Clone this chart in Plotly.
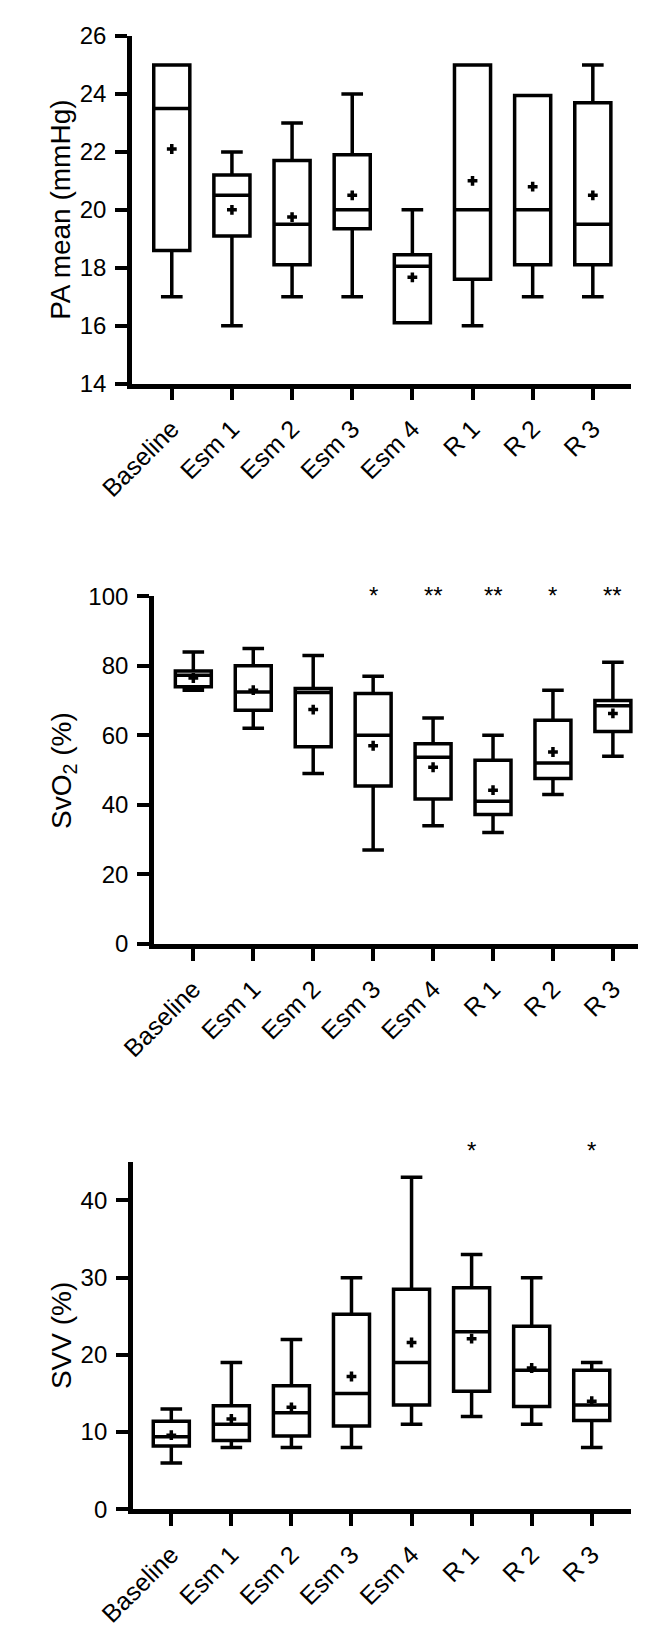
import plotly.graph_objects as go

categories = ["Baseline", "Esm 1", "Esm 2", "Esm 3", "Esm 4", "R 1", "R 2", "R 3"]

# Panel 1: PA mean (mmHg)
pa_lower = [17, 16, 17, 17, 16.1, 16, 17, 17]
pa_q1 = [18.6, 19.1, 18.1, 19.35, 16.1, 17.6, 18.1, 18.1]
pa_median = [23.5, 20.5, 19.5, 20.0, 18.05, 20.0, 20.0, 19.5]
pa_q3 = [25, 21.2, 21.7, 21.9, 18.45, 25, 23.95, 23.7]
pa_upper = [25, 22, 23, 24, 20, 25, 23.95, 25]
pa_mean = [22.1, 20.0, 19.75, 20.5, 17.67, 21.0, 20.8, 20.5]

# Panel 2: SvO2 (%)
svo2_lower = [73, 62, 49, 27, 34, 32, 43, 54]
svo2_q1 = [74, 67.2, 56.7, 45.4, 41.7, 37.2, 47.6, 61.1]
svo2_median = [77.3, 72.5, 72.3, 60, 53.7, 41, 52, 68.5]
svo2_q3 = [78.5, 80, 73.5, 72, 57.6, 52.8, 64.3, 70]
svo2_upper = [84, 85, 83, 77, 65, 60, 73, 81]
svo2_mean = [76.5, 73, 67.4, 57, 50.8, 44.2, 55.2, 66.3]
svo2_stars = ["", "", "", "*", "**", "**", "*", "**"]

# Panel 3: SVV (%)
svv_lower = [6, 8, 8, 8, 11, 12, 11, 8]
svv_q1 = [8.2, 8.9, 9.5, 10.8, 13.5, 15.3, 13.3, 11.5]
svv_median = [9.4, 11, 12.5, 15, 19, 23, 18, 13.5]
svv_q3 = [11.4, 13.4, 16, 25.25, 28.5, 28.7, 23.7, 18]
svv_upper = [13, 19, 22, 30, 43, 33, 30, 19]
svv_mean = [9.6, 11.7, 13.2, 17.2, 21.6, 22.1, 18.3, 14.0]
svv_stars = ["", "", "", "", "", "*", "", "*"]

W, H = 646, 1630
FONT = "Arial, Liberation Sans, sans-serif"
LW_BOX = 3.5
LW_AXIS = 4.5

fig = go.Figure()

panels = [
    dict(lower=pa_lower, q1=pa_q1, med=pa_median, q3=pa_q3, upper=pa_upper, mean=pa_mean,
         xa="x", ya="y"),
    dict(lower=svo2_lower, q1=svo2_q1, med=svo2_median, q3=svo2_q3, upper=svo2_upper, mean=svo2_mean,
         xa="x2", ya="y2"),
    dict(lower=svv_lower, q1=svv_q1, med=svv_median, q3=svv_q3, upper=svv_upper, mean=svv_mean,
         xa="x3", ya="y3"),
]

for p in panels:
    fig.add_trace(go.Box(
        x=categories, q1=p["q1"], median=p["med"], q3=p["q3"],
        lowerfence=p["lower"], upperfence=p["upper"],
        boxpoints=False, boxmean=False,
        line=dict(color="black", width=LW_BOX), fillcolor="white",
        width=0.6, whiskerwidth=0.6,
        xaxis=p["xa"], yaxis=p["ya"], showlegend=False, hoverinfo="skip",
    ))
    fig.add_trace(go.Scatter(
        x=categories, y=p["mean"], mode="markers",
        marker=dict(symbol="cross-thin", size=7, color="black",
                    line=dict(width=3.5, color="black")),
        xaxis=p["xa"], yaxis=p["ya"], showlegend=False, hoverinfo="skip",
    ))

def px_x(a, b):
    return [a / W, b / W]

def px_y(top, bottom):
    return [1 - bottom / H, 1 - top / H]

common_x = dict(type="category", showline=True, linewidth=LW_AXIS, linecolor="black",
                ticks="outside", ticklen=12, tickwidth=4, tickcolor="black",
                tickangle=-45, tickfont=dict(family=FONT, size=25, color="black"),
                ticklabelstandoff=4,
                showgrid=False, zeroline=False, fixedrange=True)
common_y = dict(showline=True, linewidth=LW_AXIS, linecolor="black",
                ticks="outside", ticklen=12, tickwidth=4, tickcolor="black",
                tickfont=dict(family=FONT, size=24, color="black"),
                ticklabelstandoff=4,
                showgrid=False, zeroline=False, fixedrange=True)

fig.update_layout(
    width=W, height=H,
    margin=dict(l=0, r=0, t=0, b=0),
    paper_bgcolor="white", plot_bgcolor="white",
    font=dict(family=FONT, color="black"),
    xaxis=dict(common_x, domain=px_x(92.3, 622), range=[-0.661, 7.641], anchor="y"),
    yaxis=dict(common_y, domain=px_y(14.3, 367.7), range=[14, 26], dtick=2, anchor="x"),
    xaxis2=dict(common_x, domain=px_x(115.5, 645), range=[-0.658, 7.67], anchor="y2"),
    yaxis2=dict(common_y, domain=px_y(584, 937.3), range=[0, 100], dtick=20, anchor="x2"),
    xaxis3=dict(common_x, domain=px_x(93.2, 622), range=[-0.64, 7.66], anchor="y3"),
    yaxis3=dict(common_y, domain=px_y(1159.1, 1512.3), range=[0, 45], tickvals=[0, 10, 20, 30, 40], anchor="x3"),
)

annotations = []
# axis titles
for text, xpx, top, bottom in [("PA mean (mmHg)", 17, 14.3, 367.7),
                               ("SvO<sub>2</sub> (%)", 19, 584, 937.3),
                               ("SVV (%)", 17.5, 1159.1, 1512.3)]:
    annotations.append(dict(text=text, x=xpx / W, y=1 - (top + bottom) / 2 / H,
                            xref="paper", yref="paper", xanchor="center", yanchor="middle",
                            textangle=-90, showarrow=False,
                            font=dict(family=FONT, size=28, color="black")))
# significance stars (placed just above each panel's plot area)
for stars, xref, ypx in [(svo2_stars, "x2", 582.7), (svv_stars, "x3", 1147.7)]:
    for cat, s in zip(categories, stars):
        if s:
            annotations.append(dict(text=s, x=cat, y=1 - ypx / H, xref=xref, yref="paper",
                                    xanchor="center", yanchor="middle", showarrow=False,
                                    font=dict(family=FONT, size=24, color="black")))
fig.update_layout(annotations=annotations)

fig.write_html("out.html")
